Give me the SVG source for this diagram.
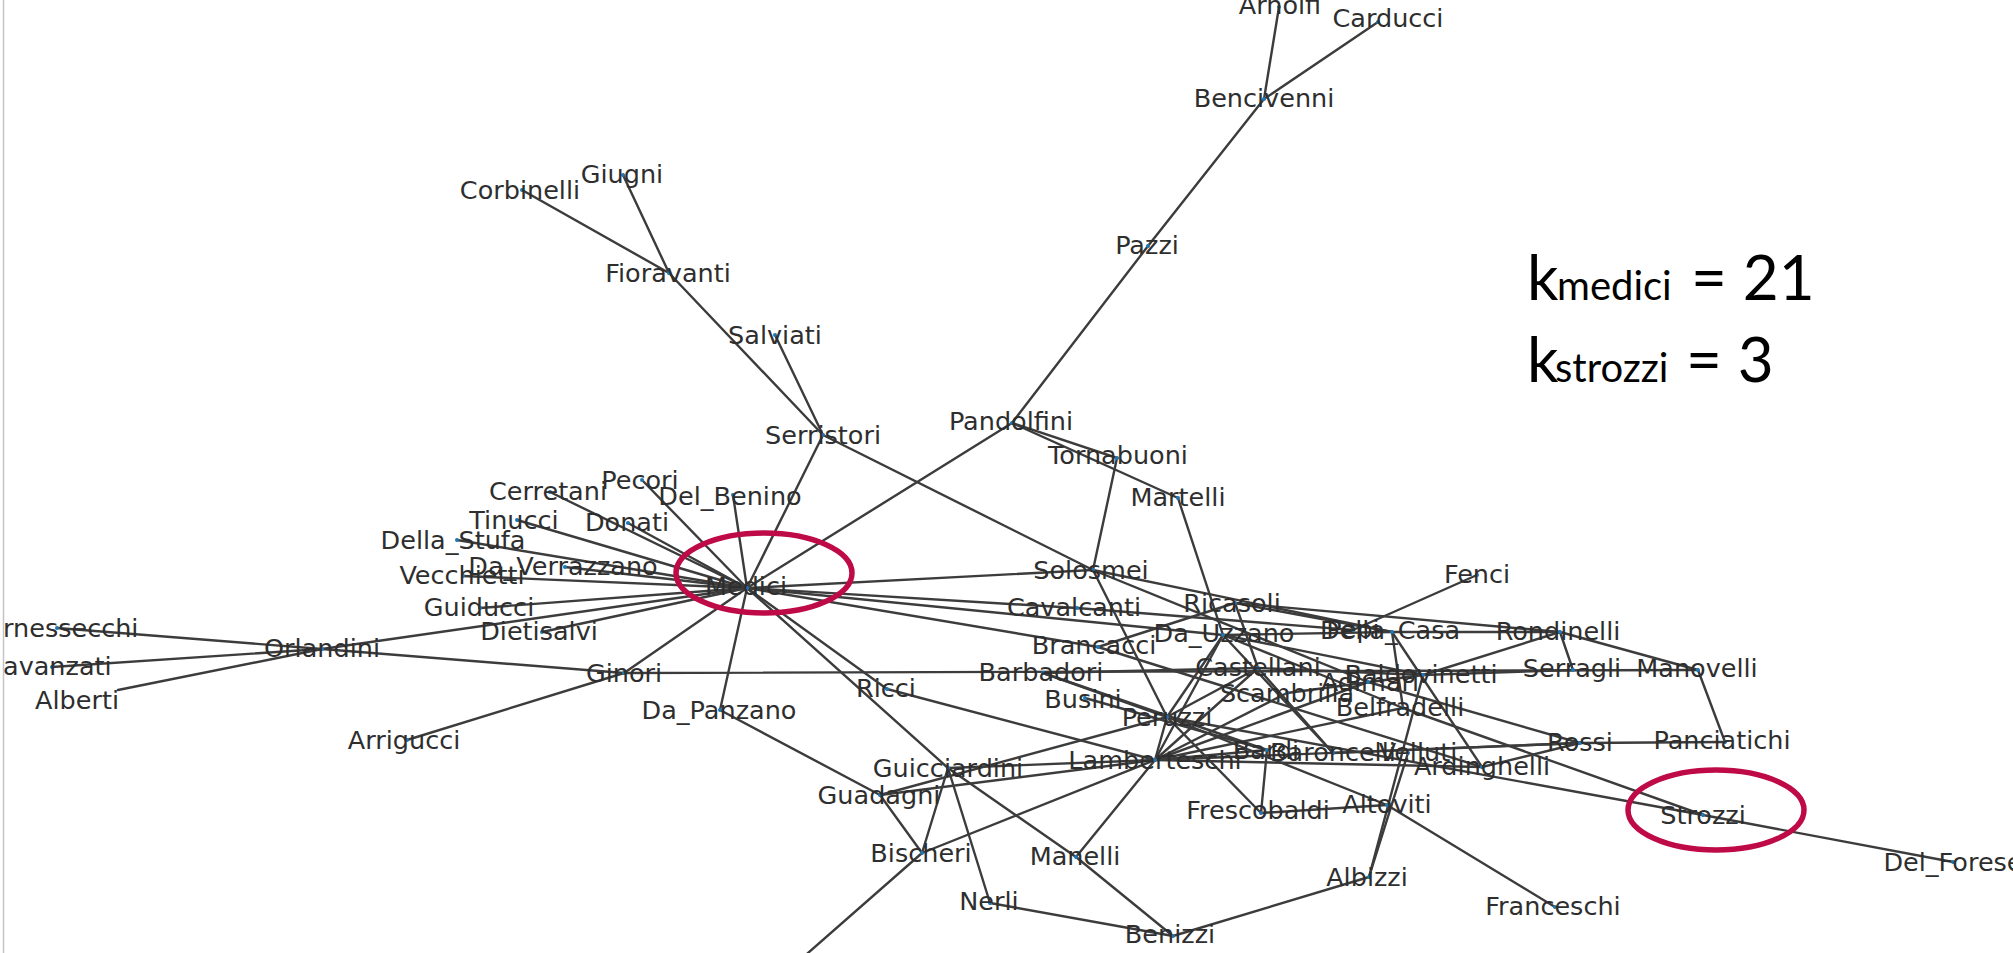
<svg xmlns="http://www.w3.org/2000/svg" width="2013" height="953" viewBox="0 0 2013 953">
<style>
.e line{stroke:#3c3c3c;stroke-width:2.4;stroke-linecap:round}
.n text{font-family:"DejaVu Sans",sans-serif;font-size:25.5px;fill:#2e2e2e;text-anchor:middle}
.n circle{fill:#1f77b4}
.ring{fill:none;stroke:#BE0A46;stroke-width:5.5}
.k{font-family:Lato,"Open Sans",sans-serif;fill:#000}
</style>
<rect width="2013" height="953" fill="#fff"/>
<line x1="3.5" y1="0" x2="3.5" y2="953" stroke="#c4c4c4" stroke-width="1.5"/>
<g id="connectors" class="e">
<line x1="1279" y1="7" x2="1264" y2="99"/>
<line x1="1378" y1="22" x2="1264" y2="99"/>
<line x1="1264" y1="99" x2="1148" y2="246"/>
<line x1="1148" y1="246" x2="1012" y2="423"/>
<line x1="522" y1="190" x2="669" y2="273"/>
<line x1="623" y1="175" x2="669" y2="273"/>
<line x1="669" y1="273" x2="823" y2="435"/>
<line x1="775" y1="335" x2="823" y2="435"/>
<line x1="823" y1="435" x2="747" y2="588"/>
<line x1="823" y1="435" x2="1093" y2="570"/>
<line x1="1012" y1="423" x2="747" y2="588"/>
<line x1="1012" y1="423" x2="1117" y2="458"/>
<line x1="1012" y1="423" x2="1178" y2="498"/>
<line x1="1117" y1="458" x2="1093" y2="570"/>
<line x1="1178" y1="498" x2="1223" y2="635"/>
<line x1="747" y1="588" x2="550" y2="492"/>
<line x1="747" y1="588" x2="642" y2="480"/>
<line x1="747" y1="588" x2="733" y2="495"/>
<line x1="747" y1="588" x2="628" y2="523"/>
<line x1="747" y1="588" x2="517" y2="520"/>
<line x1="747" y1="588" x2="457" y2="540"/>
<line x1="747" y1="588" x2="565" y2="567"/>
<line x1="747" y1="588" x2="463" y2="576"/>
<line x1="747" y1="588" x2="480" y2="608"/>
<line x1="747" y1="588" x2="542" y2="632"/>
<line x1="747" y1="588" x2="322" y2="649"/>
<line x1="747" y1="588" x2="624" y2="673"/>
<line x1="747" y1="588" x2="720" y2="710"/>
<line x1="747" y1="588" x2="1093" y2="570"/>
<line x1="747" y1="588" x2="1077" y2="608"/>
<line x1="747" y1="588" x2="1223" y2="635"/>
<line x1="747" y1="588" x2="1098" y2="647"/>
<line x1="747" y1="588" x2="887" y2="689"/>
<line x1="747" y1="588" x2="948" y2="768"/>
<line x1="322" y1="649" x2="57" y2="628"/>
<line x1="322" y1="649" x2="52" y2="667"/>
<line x1="322" y1="649" x2="118" y2="690"/>
<line x1="322" y1="649" x2="624" y2="673"/>
<line x1="624" y1="673" x2="407" y2="740"/>
<line x1="624" y1="673" x2="1698" y2="670"/>
<line x1="720" y1="710" x2="880" y2="795"/>
<line x1="887" y1="689" x2="1155" y2="760"/>
<line x1="948" y1="768" x2="922" y2="853"/>
<line x1="948" y1="768" x2="990" y2="903"/>
<line x1="948" y1="768" x2="1076" y2="857"/>
<line x1="948" y1="768" x2="1155" y2="760"/>
<line x1="880" y1="795" x2="922" y2="853"/>
<line x1="880" y1="795" x2="1155" y2="760"/>
<line x1="880" y1="795" x2="1167" y2="717"/>
<line x1="922" y1="853" x2="1155" y2="760"/>
<line x1="922" y1="853" x2="800" y2="960"/>
<line x1="1076" y1="857" x2="1155" y2="760"/>
<line x1="1076" y1="857" x2="1173" y2="936"/>
<line x1="990" y1="903" x2="1173" y2="936"/>
<line x1="1173" y1="936" x2="1369" y2="877"/>
<line x1="1369" y1="877" x2="1423" y2="675"/>
<line x1="1369" y1="877" x2="1408" y2="753"/>
<line x1="1155" y1="760" x2="1167" y2="717"/>
<line x1="1155" y1="760" x2="1223" y2="635"/>
<line x1="1155" y1="760" x2="1258" y2="668"/>
<line x1="1155" y1="760" x2="1287" y2="693"/>
<line x1="1155" y1="760" x2="1368" y2="682"/>
<line x1="1155" y1="760" x2="1403" y2="708"/>
<line x1="1155" y1="760" x2="1267" y2="750"/>
<line x1="1155" y1="760" x2="1482" y2="767"/>
<line x1="1155" y1="760" x2="1580" y2="743"/>
<line x1="1167" y1="717" x2="1093" y2="570"/>
<line x1="1167" y1="717" x2="1261" y2="813"/>
<line x1="1167" y1="717" x2="1387" y2="805"/>
<line x1="1167" y1="717" x2="1258" y2="668"/>
<line x1="1167" y1="717" x2="1223" y2="635"/>
<line x1="1167" y1="717" x2="1043" y2="673"/>
<line x1="1167" y1="717" x2="1703" y2="815"/>
<line x1="1387" y1="805" x2="1261" y2="813"/>
<line x1="1387" y1="805" x2="1555" y2="907"/>
<line x1="1267" y1="750" x2="1261" y2="813"/>
<line x1="1267" y1="750" x2="1085" y2="698"/>
<line x1="1267" y1="750" x2="1043" y2="673"/>
<line x1="1043" y1="673" x2="1258" y2="668"/>
<line x1="1098" y1="647" x2="1235" y2="603"/>
<line x1="1098" y1="647" x2="1482" y2="767"/>
<line x1="1235" y1="603" x2="1392" y2="632"/>
<line x1="1235" y1="603" x2="1560" y2="632"/>
<line x1="1235" y1="603" x2="1258" y2="668"/>
<line x1="1093" y1="570" x2="1392" y2="632"/>
<line x1="1093" y1="570" x2="1368" y2="682"/>
<line x1="1392" y1="632" x2="1560" y2="632"/>
<line x1="1392" y1="632" x2="1403" y2="708"/>
<line x1="1392" y1="632" x2="1482" y2="767"/>
<line x1="1392" y1="632" x2="1223" y2="635"/>
<line x1="1477" y1="575" x2="1353" y2="630"/>
<line x1="1077" y1="608" x2="1353" y2="630"/>
<line x1="1258" y1="668" x2="1423" y2="675"/>
<line x1="1258" y1="668" x2="1333" y2="753"/>
<line x1="1223" y1="635" x2="1403" y2="708"/>
<line x1="1223" y1="635" x2="1423" y2="675"/>
<line x1="1223" y1="635" x2="1333" y2="753"/>
<line x1="1287" y1="693" x2="1423" y2="675"/>
<line x1="1423" y1="675" x2="1560" y2="632"/>
<line x1="1423" y1="675" x2="1573" y2="670"/>
<line x1="1560" y1="632" x2="1573" y2="670"/>
<line x1="1560" y1="632" x2="1698" y2="670"/>
<line x1="1698" y1="670" x2="1725" y2="742"/>
<line x1="1580" y1="743" x2="1725" y2="742"/>
<line x1="1580" y1="743" x2="1368" y2="682"/>
<line x1="1580" y1="743" x2="1482" y2="767"/>
<line x1="1580" y1="743" x2="1333" y2="753"/>
<line x1="1403" y1="708" x2="1703" y2="815"/>
<line x1="1703" y1="815" x2="1953" y2="862"/>
</g>
<g class="n">
<g id="Arnolfi"><circle cx="1279" cy="7" r="2"/><text x="1280" y="14">Arnolfi</text></g>
<g id="Carducci"><circle cx="1378" cy="22" r="2"/><text x="1388" y="27">Carducci</text></g>
<g id="Bencivenni"><circle cx="1264" cy="99" r="2"/><text x="1264" y="107">Bencivenni</text></g>
<g id="Pazzi"><circle cx="1148" cy="246" r="2"/><text x="1147" y="254">Pazzi</text></g>
<g id="Corbinelli"><circle cx="522" cy="190" r="2"/><text x="520" y="199">Corbinelli</text></g>
<g id="Giugni"><circle cx="623" cy="175" r="2"/><text x="622" y="183">Giugni</text></g>
<g id="Fioravanti"><circle cx="669" cy="273" r="2"/><text x="668" y="282">Fioravanti</text></g>
<g id="Salviati"><circle cx="775" cy="335" r="2"/><text x="775" y="344">Salviati</text></g>
<g id="Serristori"><circle cx="823" cy="435" r="2"/><text x="823" y="444">Serristori</text></g>
<g id="Pecori"><circle cx="642" cy="480" r="2"/><text x="640" y="489">Pecori</text></g>
<g id="Cerretani"><circle cx="550" cy="492" r="2"/><text x="548" y="500">Cerretani</text></g>
<g id="Del_Benino"><circle cx="733" cy="495" r="2"/><text x="730" y="505">Del_Benino</text></g>
<g id="Tinucci"><circle cx="517" cy="520" r="2"/><text x="514" y="529">Tinucci</text></g>
<g id="Donati"><circle cx="628" cy="523" r="2"/><text x="627" y="531">Donati</text></g>
<g id="Della_Stufa"><circle cx="457" cy="540" r="2"/><text x="453" y="549">Della_Stufa</text></g>
<g id="Da_Verrazzano"><circle cx="565" cy="567" r="2"/><text x="563" y="575">Da_Verrazzano</text></g>
<g id="Vecchietti"><circle cx="463" cy="576" r="2"/><text x="462" y="584">Vecchietti</text></g>
<g id="Guiducci"><circle cx="480" cy="608" r="2"/><text x="479" y="616">Guiducci</text></g>
<g id="Dietisalvi"><circle cx="542" cy="632" r="2"/><text x="539" y="640">Dietisalvi</text></g>
<g id="Medici"><circle cx="747" cy="588" r="2"/><text x="746" y="595">Medici</text></g>
<g id="Ginori"><circle cx="624" cy="673" r="2"/><text x="624" y="682">Ginori</text></g>
<g id="Da_Panzano"><circle cx="720" cy="710" r="2"/><text x="719" y="719">Da_Panzano</text></g>
<g id="Arrigucci"><circle cx="407" cy="740" r="2"/><text x="404" y="749">Arrigucci</text></g>
<g id="Orlandini"><circle cx="322" cy="649" r="2"/><text x="322" y="657">Orlandini</text></g>
<g id="Carnessecchi"><circle cx="57" cy="628" r="2"/><text x="3" y="637" style="text-anchor:start">rnessecchi</text></g>
<g id="Davanzati"><circle cx="52" cy="667" r="2"/><text x="3" y="675" style="text-anchor:start">avanzati</text></g>
<g id="Alberti"><text x="77" y="709">Alberti</text></g>
<g id="Pandolfini"><circle cx="1012" cy="423" r="2"/><text x="1011" y="430">Pandolfini</text></g>
<g id="Tornabuoni"><circle cx="1117" cy="458" r="2"/><text x="1118" y="464">Tornabuoni</text></g>
<g id="Martelli"><circle cx="1178" cy="498" r="2"/><text x="1178" y="506">Martelli</text></g>
<g id="Solosmei"><circle cx="1093" cy="570" r="2"/><text x="1091" y="579">Solosmei</text></g>
<g id="Cavalcanti"><circle cx="1077" cy="608" r="2"/><text x="1074" y="616">Cavalcanti</text></g>
<g id="Ricasoli"><circle cx="1235" cy="603" r="2"/><text x="1232" y="612">Ricasoli</text></g>
<g id="Da_Uzzano"><circle cx="1223" cy="635" r="2"/><text x="1224" y="642">Da_Uzzano</text></g>
<g id="Brancacci"><circle cx="1098" cy="647" r="2"/><text x="1094" y="654">Brancacci</text></g>
<g id="Barbadori"><circle cx="1043" cy="673" r="2"/><text x="1041" y="681">Barbadori</text></g>
<g id="Castellani"><circle cx="1258" cy="668" r="2"/><text x="1258" y="676">Castellani</text></g>
<g id="Scambrilla"><circle cx="1287" cy="693" r="2"/><text x="1287" y="702">Scambrilla</text></g>
<g id="Busini"><circle cx="1085" cy="698" r="2"/><text x="1083" y="708">Busini</text></g>
<g id="Peruzzi"><circle cx="1167" cy="717" r="2"/><text x="1167" y="726">Peruzzi</text></g>
<g id="Lamberteschi"><circle cx="1155" cy="760" r="2"/><text x="1155" y="769">Lamberteschi</text></g>
<g id="Ricci"><circle cx="887" cy="689" r="2"/><text x="886" y="697">Ricci</text></g>
<g id="Guicciardini"><circle cx="948" cy="768" r="2"/><text x="948" y="777">Guicciardini</text></g>
<g id="Guadagni"><circle cx="880" cy="795" r="2"/><text x="879" y="804">Guadagni</text></g>
<g id="Bischeri"><circle cx="922" cy="853" r="2"/><text x="921" y="862">Bischeri</text></g>
<g id="Manelli"><circle cx="1076" cy="857" r="2"/><text x="1075" y="865">Manelli</text></g>
<g id="Nerli"><circle cx="990" cy="903" r="2"/><text x="989" y="910">Nerli</text></g>
<g id="Benizzi"><circle cx="1173" cy="936" r="2"/><text x="1170" y="943">Benizzi</text></g>
<g id="Frescobaldi"><circle cx="1261" cy="813" r="2"/><text x="1258" y="819">Frescobaldi</text></g>
<g id="Altoviti"><circle cx="1387" cy="805" r="2"/><text x="1387" y="813">Altoviti</text></g>
<g id="Albizzi"><circle cx="1369" cy="877" r="2"/><text x="1367" y="886">Albizzi</text></g>
<g id="Franceschi"><circle cx="1555" cy="907" r="2"/><text x="1553" y="915">Franceschi</text></g>
<g id="Bardi"><circle cx="1267" cy="750" r="2"/><text x="1266" y="759">Bardi</text></g>
<g id="Baroncelli"><circle cx="1333" cy="753" r="2"/><text x="1333" y="761">Baroncelli</text></g>
<g id="Velluti"><circle cx="1408" cy="753" r="2"/><text x="1418" y="761">Velluti</text></g>
<g id="Ardinghelli"><circle cx="1482" cy="767" r="2"/><text x="1482" y="775">Ardinghelli</text></g>
<g id="Belfradelli"><circle cx="1403" cy="708" r="2"/><text x="1400" y="716">Belfradelli</text></g>
<g id="Baldovinetti"><circle cx="1423" cy="675" r="2"/><text x="1421" y="683">Baldovinetti</text></g>
<g id="Adimari"><circle cx="1368" cy="682" r="2"/><text x="1370" y="691">Adimari</text></g>
<g id="Della_Casa"><circle cx="1392" cy="632" r="2"/><text x="1390" y="639">Della_Casa</text></g>
<g id="Pepi"><circle cx="1353" cy="630" r="2"/><text x="1353" y="638">Pepi</text></g>
<g id="Fenci"><circle cx="1477" cy="575" r="2"/><text x="1477" y="583">Fenci</text></g>
<g id="Rondinelli"><circle cx="1560" cy="632" r="2"/><text x="1558" y="640">Rondinelli</text></g>
<g id="Serragli"><circle cx="1573" cy="670" r="2"/><text x="1572" y="677">Serragli</text></g>
<g id="Manovelli"><circle cx="1698" cy="670" r="2"/><text x="1697" y="677">Manovelli</text></g>
<g id="Rossi"><circle cx="1580" cy="743" r="2"/><text x="1580" y="751">Rossi</text></g>
<g id="Panciatichi"><circle cx="1725" cy="742" r="2"/><text x="1722" y="749">Panciatichi</text></g>
<g id="Strozzi"><circle cx="1703" cy="815" r="2"/><text x="1703" y="824">Strozzi</text></g>
<g id="Del_Forese"><circle cx="1953" cy="862" r="2"/><text x="1953" y="871">Del_Forese</text></g>
</g>
<ellipse class="ring" cx="764" cy="573" rx="88" ry="40"/>
<ellipse class="ring" cx="1716" cy="810" rx="88" ry="40"/>
<text class="k" y="300" font-size="62"><tspan x="1527">k</tspan><tspan x="1557" font-size="40">medici</tspan><tspan x="1691">= 21</tspan></text>
<text class="k" y="382" font-size="62"><tspan x="1527">k</tspan><tspan x="1555" font-size="40">strozzi</tspan><tspan x="1686">= 3</tspan></text>
</svg>
